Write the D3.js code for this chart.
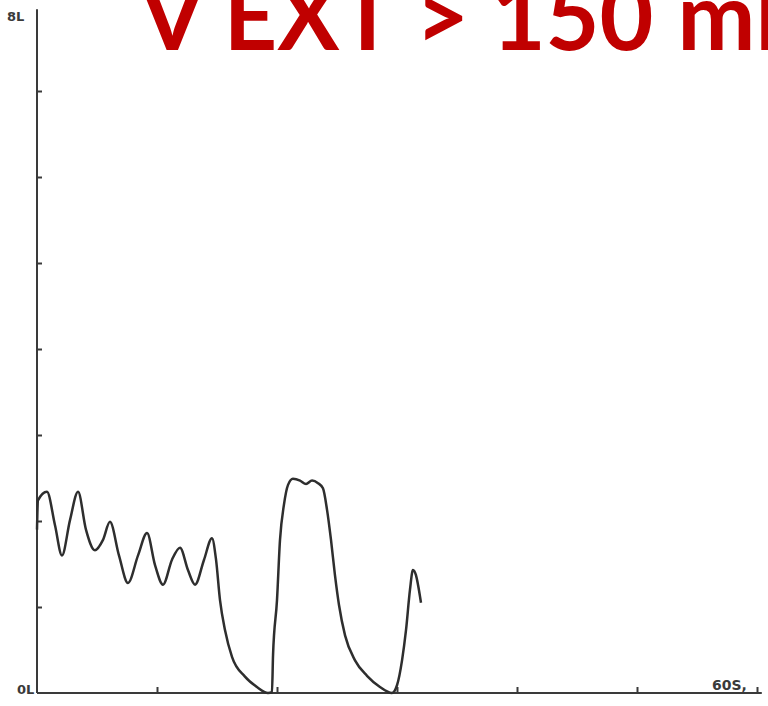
<!DOCTYPE html>
<html>
<head>
<meta charset="utf-8">
<script src="https://cdn.jsdelivr.net/npm/d3@7"></script>
<style>
  html, body { margin: 0; padding: 0; background: #fff; }
  svg { display: block; }
</style>
</head>
<body>
<div id="chart"></div>
<script>
// Expiratory volume trace (seconds vs litres)

const titleParts = ['V EXT > 150', 'ml'];
const yTicks = [1, 2, 3, 4, 5, 6, 7];
const xTicks = [10, 20, 30, 40, 50, 60];
const yLabels = ['0L', '8L'];
const xLabel = '60S,';

const time = [0, 0.08, 0.83, 1.5, 2.08, 2.75, 3.42, 4.08, 4.83, 5.5, 6.08, 6.83, 7.58, 8.42, 9.17,
    9.83, 10.5, 11.25, 11.92, 12.58, 13.17, 13.92, 14.58, 14.92, 15.25, 15.67, 16.25, 17.33, 18.33,
    19.25, 19.58, 19.67, 20.0, 20.25, 20.58, 20.92, 21.33, 21.92, 22.42, 22.92, 23.42, 23.83, 24.17,
    24.5, 24.83, 25.17, 25.67, 26.5, 27.5, 28.58, 29.58, 30.0, 30.42, 30.75, 31.08, 31.33, 31.58,
    31.75, 32.0];
const volume = [1.90, 2.24, 2.34, 1.95, 1.60, 2.01, 2.34, 1.90, 1.66, 1.78, 1.99, 1.60, 1.28, 1.60, 1.86,
    1.49, 1.26, 1.55, 1.69, 1.43, 1.26, 1.55, 1.80, 1.55, 1.08, 0.73, 0.42, 0.19, 0.07,
    0, 0.01, 0.44, 1.08, 1.78, 2.19, 2.42, 2.49, 2.47, 2.43, 2.47, 2.44, 2.38, 2.13,
    1.78, 1.37, 1.02, 0.67, 0.38, 0.20, 0.07, 0, 0.09, 0.38, 0.73, 1.20, 1.43, 1.37,
    1.26, 1.05];

const data = time.map((t, i) => ({ t: t, v: volume[i] }));

const width = 768;
const height = 706;

const svg = d3.select('#chart')
    .append('svg')
    .attr('width', width)
    .attr('height', height);

// Scales
const x = d3.scaleLinear().domain([0, 60]).range([37, 757]);
const y = d3.scaleLinear().domain([0, 8]).range([693, 5]);

// Axes
svg.append('g')
    .attr('transform', `translate(${x(0)},0)`)
    .call(d3.axisLeft(y).tickValues(yTicks).tickSize(-5).tickFormat(''))
    .call(g => g.select('.domain').attr('d', `M0,${y(0)}V${y(7.95)}`))
    .call(g => g.selectAll('line, path').attr('stroke', '#3a3a3a').attr('stroke-width', 2));

svg.append('g')
    .attr('transform', `translate(0,${y(0)})`)
    .call(d3.axisBottom(x).tickValues(xTicks).tickSize(-6).tickFormat(''))
    .call(g => g.select('.domain').attr('d', `M${x(0)},0H${x(60.4)}`))
    .call(g => g.selectAll('line, path').attr('stroke', '#3a3a3a').attr('stroke-width', 2));

// Trace
const line = d3.line()
    .x(d => x(d.t))
    .y(d => y(d.v))
    .curve(d3.curveMonotoneX);

svg.append('path')
    .datum(data)
    .attr('d', line)
    .style('fill', 'none')
    .style('stroke', '#2e2e2e')
    .style('stroke-width', 2.5)
    .style('stroke-linejoin', 'round');

// Axis labels
svg.append('text')
    .attr('x', 17)
    .attr('y', y(0) + 1)
    .style('font-family', 'DejaVu Sans')
    .style('font-size', '13px')
    .style('font-weight', 'bold')
    .style('fill', '#3a3a3a')
    .text(yLabels[0]);

svg.append('text')
    .attr('x', 7)
    .attr('y', 21)
    .style('font-family', 'DejaVu Sans')
    .style('font-size', '13px')
    .style('font-weight', 'bold')
    .style('fill', '#3a3a3a')
    .text(yLabels[1]);

svg.append('text')
    .attr('x', 712)
    .attr('y', 690)
    .style('font-family', 'DejaVu Sans')
    .style('font-size', '14px')
    .style('font-weight', 'bold')
    .style('fill', '#3a3a3a')
    .text(xLabel);

// Title (runs off the top and right edges, as in the reference)
const title = svg.append('text')
    .attr('x', 140)
    .attr('y', 50)
    .style('font-family', 'Lato, "Open Sans", sans-serif')
    .style('font-weight', 'bold')
    .style('font-size', '93px')
    .style('fill', '#c00000');

title.append('tspan').text(titleParts[0]);
title.append('tspan').attr('dx', 24).text(titleParts[1]);
</script>
</body>
</html>
